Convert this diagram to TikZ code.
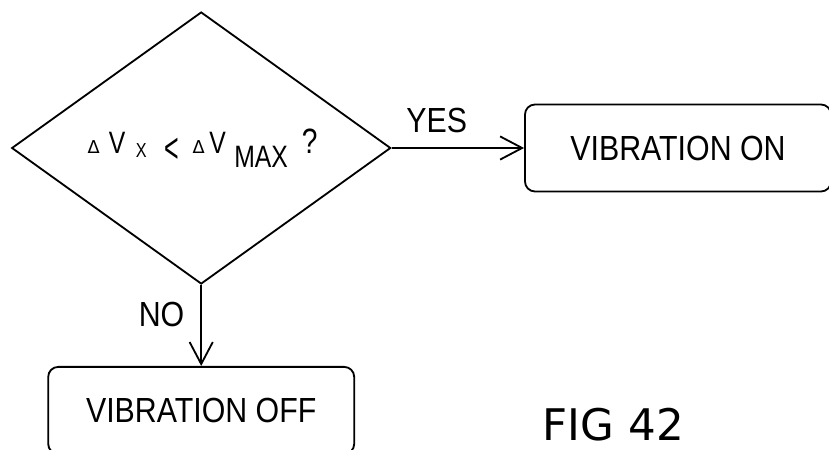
\documentclass[tikz,border=0pt]{standalone}
\usepackage{graphicx}
\usepackage{fontspec}
\newfontfamily\cadfont[FakeStretch=0.87]{Liberation Sans}
\newfontfamily\cadnarrow[FakeStretch=0.8]{Liberation Sans}
\newfontfamily\figfont{DejaVu Sans}
\usetikzlibrary{arrows.meta,shapes.geometric}
\newlength\pxu
\setlength\pxu{0.025cm}
\newcommand{\dlt}{{\figfont\fontsize{12.6}{13}\selectfont Δ}}

\begin{document}
\begin{tikzpicture}[
  line width=1.3pt,
  font=\cadfont\fontsize{24.8}{30}\selectfont,
  decision/.style={draw, diamond, aspect=1.4, inner sep=0pt, minimum width=9.475cm, minimum height=6.8cm, font=\cadnarrow\fontsize{22}{25}\selectfont},
  action/.style={draw, rounded corners=0.25cm, minimum width=7.65cm, minimum height=2.175cm, align=center},
  note/.style={inner sep=0pt},
  arr/.style={-{Straight Barb[length=0.55cm, width=0.58cm]}}
]
  \path[use as bounding box, clip] (0,0) rectangle (20.725,-11.225);

  \node[decision] at (5.03,-3.7) (dec) {%
    \makebox[15\pxu]{\dlt}\hspace{10\pxu}%
    \makebox[12\pxu]{V}\hspace{11\pxu}%
    \raisebox{-4\pxu}{\makebox[14\pxu]{\fontsize{14.4}{15}\selectfont X}}\hspace{16\pxu}%
    \raisebox{-9\pxu}{\makebox[15\pxu]{\scalebox{0.75}[1]{\fontsize{29.7}{30}\selectfont <}}}\hspace{12\pxu}%
    \makebox[15\pxu]{\dlt}\hspace{5\pxu}%
    \makebox[13\pxu]{V}\hspace{9\pxu}%
    \raisebox{-14\pxu}{\makebox[56\pxu]{MAX}}\hspace{14\pxu}%
    \makebox[13\pxu]{\fontsize{25}{25}\selectfont ?}};
  \node[action] at (16.95,-3.7) (on) {VIBRATION ON};
  \node[action] at (5.03,-10.26) (off) {VIBRATION OFF};
  \node[note, anchor=base west, font=\figfont\fontsize{31}{34}\selectfont] at (13.55,-11.0) (fig) {FIG 42};

  \draw[arr] (dec.east) -- node[note, above=14\pxu, pos=0.34] {YES} (on.west);
  \draw[arr] (dec.south) -- node[note, left=16\pxu, pos=0.37] {NO} (off.north);
\end{tikzpicture}
\end{document}
